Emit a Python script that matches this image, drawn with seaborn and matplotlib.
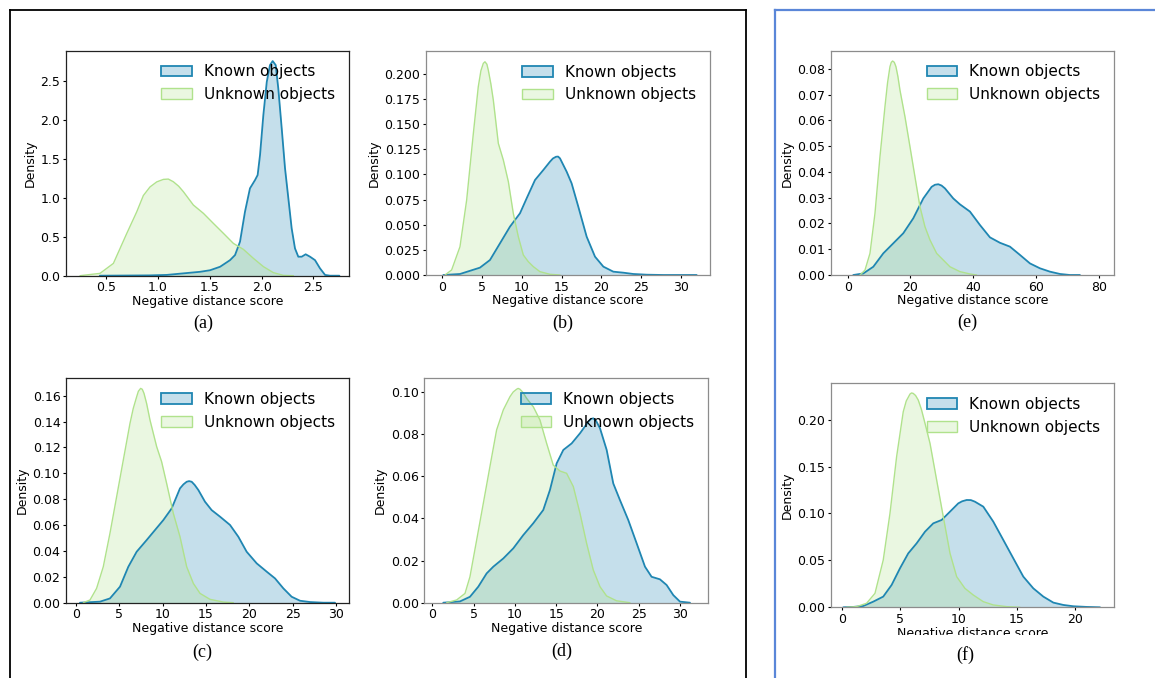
import matplotlib
matplotlib.use("Agg")
import matplotlib.pyplot as plt
import seaborn as sns
from matplotlib.patches import Patch
from matplotlib.lines import Line2D
from matplotlib.transforms import Bbox, TransformedBbox
from matplotlib.colors import to_rgba

# ---------------- data (density curves) ----------------
a_known_x = [0.44, 0.924, 1.085, 1.246, 1.407, 1.503, 1.600, 1.696, 1.744, 1.792, 1.840, 1.888, 1.937, 1.962,
             1.985, 2.017, 2.05, 2.081, 2.107, 2.136, 2.161, 2.194, 2.226, 2.258, 2.290, 2.322, 2.354, 2.387,
             2.425, 2.467, 2.515, 2.563, 2.612, 2.66, 2.75]
a_known_y = [0.0, 0.004, 0.01, 0.03, 0.05, 0.07, 0.115, 0.2, 0.265, 0.437, 0.822, 1.122, 1.229, 1.293,
             1.55, 2.063, 2.49, 2.705, 2.757, 2.705, 2.406, 1.893, 1.379, 0.994, 0.608, 0.351, 0.244, 0.244,
             0.275, 0.244, 0.2, 0.095, 0.01, 0.0, 0.0]
a_unknown_x = [0.249, 0.442, 0.571, 0.699, 0.796, 0.860, 0.924, 0.989, 1.053, 1.101, 1.149, 1.20, 1.246,
               1.342, 1.439, 1.535, 1.632, 1.728, 1.825, 1.921, 2.018, 2.114, 2.211, 2.307]
a_unknown_y = [0.0, 0.03, 0.158, 0.54, 0.82, 1.03, 1.14, 1.205, 1.237, 1.241, 1.207, 1.15, 1.079,
               0.908, 0.801, 0.672, 0.544, 0.415, 0.338, 0.223, 0.116, 0.039, 0.004, 0.0]

b_known_x = [0.13, 2.22, 4.73, 5.99, 7.25, 8.50, 9.76, 10.60, 11.65, 12.69, 13.53, 13.9, 14.29, 14.55, 14.79,
             15.63, 16.25, 17.09, 18.14, 19.19, 20.24, 21.49, 22.75, 24.00, 25.68, 27.78, 31.96]
b_known_y = [0.0, 0.001, 0.0073, 0.0149, 0.0315, 0.048, 0.0613, 0.0762, 0.0944, 0.1043, 0.1126, 0.1158,
             0.1175, 0.1177, 0.1159, 0.1026, 0.0911, 0.0679, 0.0381, 0.0182, 0.0083, 0.0033, 0.0023, 0.001,
             0.0003, 0.0, 0.0]
b_unknown_x = [0.34, 1.17, 2.22, 3.06, 3.90, 4.52, 4.85, 5.15, 5.36, 5.6, 5.78, 6.1, 6.41, 7.04, 7.67, 8.30,
               8.92, 9.55, 10.18, 10.81, 11.44, 12.27, 13.53, 14.79]
b_unknown_y = [0.0, 0.005, 0.0281, 0.0745, 0.1407, 0.1871, 0.203, 0.2103, 0.2119, 0.2095, 0.2036, 0.190,
               0.1738, 0.1308, 0.1142, 0.0927, 0.0613, 0.0381, 0.0199, 0.0132, 0.0083, 0.0033, 0.0007, 0.0]

e_known_x = [1.80, 4.99, 8.17, 11.35, 14.54, 17.72, 20.90, 24.09, 26.74, 27.8, 28.86, 29.9, 30.98, 33.63,
             35.76, 38.94, 42.12, 45.31, 48.49, 51.67, 54.85, 58.04, 61.22, 64.40, 67.59, 70.77, 73.95]
e_known_y = [0.0, 0.0006, 0.0032, 0.0084, 0.0123, 0.0162, 0.022, 0.0297, 0.0342, 0.0350, 0.0352, 0.0347,
             0.0336, 0.0297, 0.0274, 0.0246, 0.0194, 0.0146, 0.0125, 0.011, 0.0078, 0.0045, 0.0026, 0.0013,
             0.0004, 0.0, 0.0]
e_unknown_x = [3.93, 5.52, 7.11, 8.70, 10.29, 11.88, 12.7, 13.47, 13.9, 14.32, 14.85, 15.38, 16.0, 16.66,
               18.25, 19.84, 21.43, 23.02, 24.62, 26.21, 28.33, 30.45, 32.57, 35.76, 38.94, 41.06]
e_unknown_y = [0.0, 0.0019, 0.0084, 0.0239, 0.0459, 0.0653, 0.0745, 0.0808, 0.0825, 0.0830, 0.0825,
               0.0808, 0.077, 0.0717, 0.0614, 0.0498, 0.0381, 0.0265, 0.0187, 0.0136, 0.0084, 0.0058,
               0.0032, 0.0013, 0.0004, 0.0]

c_known_x = [0.46, 2.77, 3.92, 5.08, 6.04, 7.00, 8.15, 9.12, 10.08, 11.04, 12.0, 12.4, 12.77, 13.05, 13.35,
             13.7, 14.12, 14.88, 15.65, 16.62, 17.77, 18.73, 19.69, 20.85, 22.0, 22.96, 23.92, 24.88, 25.85,
             27.0, 28.54, 29.88]
c_known_y = [0.0, 0.0008, 0.0033, 0.0124, 0.0278, 0.0394, 0.0484, 0.0562, 0.0639, 0.0729, 0.0884, 0.0915,
             0.0935, 0.094, 0.0935, 0.091, 0.0871, 0.0781, 0.0716, 0.0665, 0.0601, 0.0510, 0.0394, 0.0304,
             0.0240, 0.0188, 0.0111, 0.0046, 0.0015, 0.0005, 0.0, 0.0]
c_unknown_x = [0.85, 1.62, 2.38, 3.15, 3.92, 4.69, 5.46, 6.23, 6.6, 7.0, 7.2, 7.46, 7.65, 7.85, 8.15, 8.54,
               9.31, 9.88, 10.46, 11.23, 12.0, 12.77, 13.54, 14.31, 15.46, 17.0, 18.15]
c_unknown_y = [0.0, 0.0021, 0.0111, 0.0278, 0.0536, 0.0819, 0.1103, 0.1386, 0.150, 0.1592, 0.1635, 0.1657,
               0.1650, 0.1618, 0.154, 0.1412, 0.1206, 0.109, 0.0922, 0.0691, 0.051, 0.0278, 0.0149, 0.0072,
               0.0026, 0.0005, 0.0]

d_known_x = [1.33, 3.35, 4.56, 5.57, 6.58, 7.39, 8.6, 9.81, 11.02, 12.23, 13.44, 14.25, 15.06, 15.87, 16.88,
             17.89, 18.9, 19.2, 19.5, 19.85, 20.31, 21.12, 21.92, 22.73, 23.74, 24.75, 25.76, 26.56, 27.57,
             28.38, 29.19, 30.0, 31.21]
d_known_y = [0.0, 0.0006, 0.0028, 0.0076, 0.0139, 0.0171, 0.021, 0.0258, 0.0321, 0.0377, 0.044, 0.0535,
             0.0661, 0.0725, 0.0756, 0.0804, 0.0859, 0.0872, 0.0875, 0.0862, 0.0828, 0.0725, 0.0566, 0.0487,
             0.0392, 0.0282, 0.0171, 0.0123, 0.0111, 0.0084, 0.0036, 0.0005, 0.0]
d_unknown_x = [1.74, 2.95, 3.96, 4.56, 5.37, 6.18, 6.98, 7.79, 8.6, 9.41, 9.8, 10.21, 10.4, 10.62, 11.0,
               11.42, 12.23, 13.04, 13.85, 14.65, 15.46, 16.27, 17.08, 17.89, 18.69, 19.5, 20.31, 21.11,
               22.32, 23.94]
d_unknown_y = [0.0, 0.0013, 0.0044, 0.0123, 0.0297, 0.0472, 0.0646, 0.082, 0.0915, 0.0978, 0.1, 0.1013,
               0.1017, 0.1013, 0.0997, 0.097, 0.093, 0.0867, 0.0756, 0.0653, 0.0625, 0.0614, 0.0551, 0.0424,
               0.0282, 0.0155, 0.0076, 0.0032, 0.0009, 0.0]

f_known_x = [0.09, 0.95, 1.81, 2.66, 3.52, 4.24, 4.96, 5.67, 6.39, 7.11, 7.82, 8.54, 9.26, 9.97, 10.3, 10.69,
             11.05, 11.4, 12.12, 12.98, 13.84, 14.7, 15.56, 16.42, 17.28, 18.14, 19.0, 19.86, 21.0, 22.15]
f_known_y = [0.0, 0.0004, 0.0014, 0.006, 0.0114, 0.0238, 0.0416, 0.0575, 0.0682, 0.0806, 0.0895, 0.0931,
             0.102, 0.1108, 0.1130, 0.1144, 0.1143, 0.1126, 0.1073, 0.0913, 0.0718, 0.0522, 0.0327, 0.0202,
             0.0114, 0.005, 0.0025, 0.0011, 0.0004, 0.0]
f_unknown_x = [0.37, 1.23, 2.09, 2.81, 3.52, 4.1, 4.67, 5.24, 5.5, 5.82, 5.95, 6.1, 6.3, 6.53, 6.8, 7.11,
               7.54, 8.11, 8.68, 9.26, 9.83, 10.54, 11.26, 12.12, 12.98, 14.13, 15.27]
f_unknown_y = [0.0, 0.0007, 0.0043, 0.0149, 0.0504, 0.1002, 0.1606, 0.2085, 0.220, 0.2273, 0.2285, 0.228,
               0.2258, 0.2209, 0.211, 0.1961, 0.1748, 0.1357, 0.0966, 0.0575, 0.0327, 0.0202, 0.0131, 0.006,
               0.0025, 0.0007, 0.0]

series_labels = ["Known objects", "Unknown objects"]
x_label = "Negative distance score"
y_label = "Density"
panel_letters = ["(a)", "(b)", "(e)", "(c)", "(d)", "(f)"]

a_xticks = [0.5, 1.0, 1.5, 2.0, 2.5]; a_yticks = [0.0, 0.5, 1.0, 1.5, 2.0, 2.5]
b_xticks = [0, 5, 10, 15, 20, 25, 30]; b_yticks = [0.0, 0.025, 0.05, 0.075, 0.1, 0.125, 0.15, 0.175, 0.2]
e_xticks = [0, 20, 40, 60, 80]; e_yticks = [0.0, 0.01, 0.02, 0.03, 0.04, 0.05, 0.06, 0.07, 0.08]
c_xticks = [0, 5, 10, 15, 20, 25, 30]; c_yticks = [0.0, 0.02, 0.04, 0.06, 0.08, 0.10, 0.12, 0.14, 0.16]
d_xticks = [0, 5, 10, 15, 20, 25, 30]; d_yticks = [0.0, 0.02, 0.04, 0.06, 0.08, 0.10]
f_xticks = [0, 5, 10, 15, 20]; f_yticks = [0.0, 0.05, 0.10, 0.15, 0.20]

# ---------------- style ----------------
sns.set_style("ticks")
plt.rcParams["font.family"] = ["DejaVu Sans"]
plt.rcParams["text.color"] = "black"
plt.rcParams["axes.labelcolor"] = "black"
plt.rcParams["xtick.color"] = "black"
plt.rcParams["ytick.color"] = "black"

KNOWN = "#1f86b2"
UNKNOWN = "#b0e28c"
FILL_ALPHA = 0.26

W, H = 1155, 678
fig = plt.figure(figsize=(W / 100, H / 100), dpi=100)


def px_axes(l, t, r, b):
    return fig.add_axes([l / W, 1 - b / H, (r - l) / W, (b - t) / H])


panels = [
    # rect(l,t,r,b), xlim, ylim, known, unknown, ticks, spine color
    ((66, 50.7, 348.7, 275.7), (0.114, 2.84), (0, 2.89), (a_known_x, a_known_y), (a_unknown_x, a_unknown_y),
     (a_xticks, a_yticks), "#222222"),
    ((426, 51, 710, 275), (-2.05, 33.64), (0, 0.2226), (b_known_x, b_known_y), (b_unknown_x, b_unknown_y),
     (b_xticks, b_yticks), "#8c8c8c"),
    ((831, 50.7, 1114.3, 275), (-5.3, 84.9), (0, 0.087), (e_known_x, e_known_y), (e_unknown_x, e_unknown_y),
     (e_xticks, e_yticks), "#8c8c8c"),
    ((66, 378.3, 348.7, 602.7), (-1.15, 31.46), (0, 0.1735), (c_known_x, c_known_y), (c_unknown_x, c_unknown_y),
     (c_xticks, c_yticks), "#222222"),
    ((424.3, 378.3, 708.3, 602.7), (-0.97, 33.43), (0, 0.1065), (d_known_x, d_known_y),
     (d_unknown_x, d_unknown_y), (d_xticks, d_yticks), "#8c8c8c"),
    ((831, 383.3, 1114.3, 607.3), (-0.97, 23.38), (0, 0.2388), (f_known_x, f_known_y),
     (f_unknown_x, f_unknown_y), (f_xticks, f_yticks), "#8c8c8c"),
]

axes = []
for rect, xl, yl, kn, un, ticks, sc in panels:
    ax = px_axes(*rect)
    axes.append(ax)
    # known
    ax.fill_between(kn[0], kn[1], color=KNOWN, alpha=FILL_ALPHA, linewidth=0)
    sns.lineplot(x=kn[0], y=kn[1], ax=ax, color=KNOWN, linewidth=1.3)
    # unknown
    ax.fill_between(un[0], un[1], color=UNKNOWN, alpha=FILL_ALPHA, linewidth=0)
    sns.lineplot(x=un[0], y=un[1], ax=ax, color=UNKNOWN, linewidth=1.0)
    ax.set_xlim(*xl)
    ax.set_ylim(*yl)
    ax.set_xticks(ticks[0])
    ax.set_yticks(ticks[1])
    ax.tick_params(labelsize=9, length=2.5, width=0.8, pad=1.5)
    for s in ax.spines.values():
        s.set_visible(True)
        s.set_color(sc)
        s.set_linewidth(0.9)
    ax.set_xlabel(x_label, fontsize=9, labelpad=0.5)
    ax.set_ylabel(y_label, fontsize=9, labelpad=3)
    handles = [Patch(facecolor=to_rgba(KNOWN, FILL_ALPHA), edgecolor=KNOWN, linewidth=1.3),
               Patch(facecolor=to_rgba(UNKNOWN, FILL_ALPHA), edgecolor=UNKNOWN, linewidth=1.0)]
    ax.legend(handles, series_labels, loc="upper right", frameon=False, fontsize=11)

# clip the x label of the last panel like the reference
lbl = axes[5].xaxis.label
lbl.set_clip_on(True)
lbl.set_clip_box(TransformedBbox(Bbox([[0, 43.5 / H], [1, 1]]), fig.transFigure))

# panel letters
letter_pos = [(203, 323), (562.7, 323), (967, 322), (202, 652.7), (561.7, 651.7), (965, 655)]
for (x, y), s in zip(letter_pos, panel_letters):
    fig.text(x / W, 1 - y / H, s, family="Liberation Serif", fontsize=13, ha="center", va="center")

# surrounding frames
def fline(x0, y0, x1, y1, color, lw):
    fig.add_artist(Line2D([x0 / W, x1 / W], [1 - y0 / H, 1 - y1 / H], transform=fig.transFigure,
                          color=color, linewidth=lw, solid_capstyle="projecting"))

fline(10, 10, 745.5, 10, "black", 1.3)
fline(10, 10, 10, 690, "black", 1.3)
fline(745.5, 10, 745.5, 690, "black", 1.3)
fline(775, 10, 1170, 10, "#5a86d8", 1.6)
fline(775, 10, 775, 690, "#5a86d8", 1.6)

fig.savefig("out.png", dpi=100)
